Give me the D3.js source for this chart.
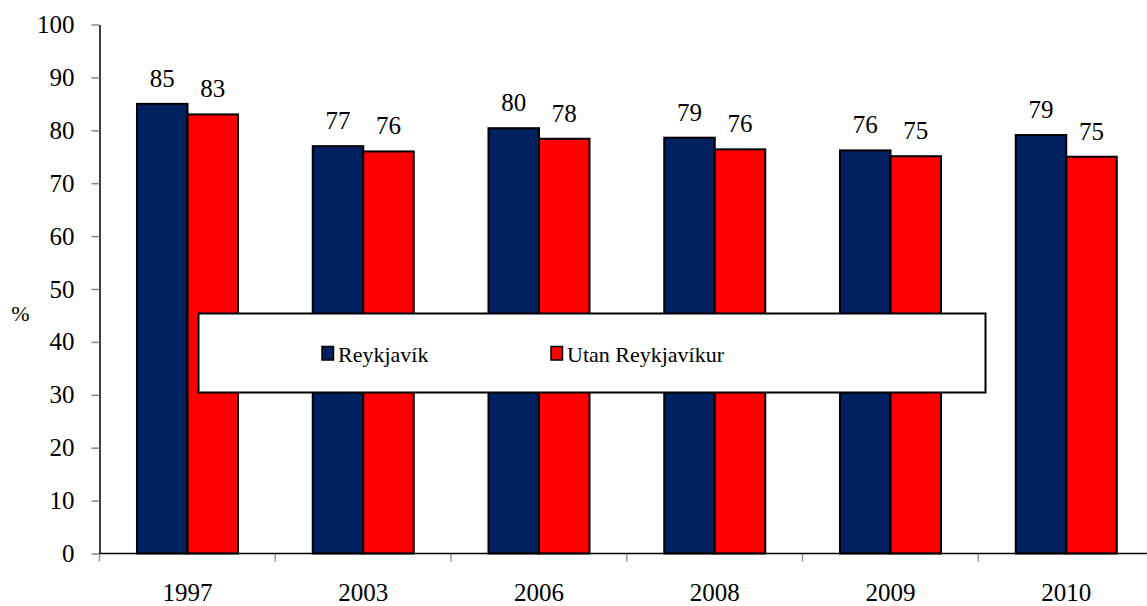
<!DOCTYPE html>
<html>
<head>
<meta charset="utf-8">
<script src="https://cdn.jsdelivr.net/npm/d3@7"></script>
<style>
  html, body { margin: 0; padding: 0; background: #fff; }
  svg text { font-family: "Liberation Serif", "Times New Roman", Times, serif; }
</style>
</head>
<body>
<svg id="chart" width="1147" height="606"></svg>
<script>
// Survey years and the share (%) for each area
const years = ["1997", "2003", "2006", "2008", "2009", "2010"];
const seriesNames = ["Reykjavík", "Utan Reykjavíkur"];
const reykjavik = [85, 77, 80.4, 78.6, 76.2, 79.1];
const utanReykjavikur = [83, 76, 78.4, 76.4, 75.1, 75];
const yTicks = [0, 10, 20, 30, 40, 50, 60, 70, 80, 90, 100];
const colors = ["#002060", "#ff0000"];

(function draw() {
  const seriesValues = [reykjavik, utanReykjavikur];
  const rows = years.map((yr, i) => ({
    year: yr,
    values: seriesNames.map((s, j) => ({ series: s, value: seriesValues[j][i], idx: j }))
  }));

  const svg = d3.select("#chart");
  const plotLeft = 99.5, plotBottom = 553.5, plotTop = 24.5;

  const x0 = d3.scaleBand().domain(years).range([plotLeft, plotLeft + 6 * 175.75]).padding(0);
  const x1 = d3.scaleBand().domain(seriesNames).range([37.5, 138.5]).padding(0);
  const y = d3.scaleLinear().domain([0, 100]).range([plotBottom, plotTop]);

  // Y axis
  const yAxis = svg.append("g")
    .attr("transform", `translate(${plotLeft},0)`)
    .call(d3.axisLeft(y).tickValues(yTicks).tickSize(8).tickPadding(17).tickSizeOuter(0));
  yAxis.attr("font-family", null);
  yAxis.select(".domain").attr("stroke", "#000").attr("stroke-width", 1.5);
  yAxis.selectAll(".tick line").attr("stroke", "#888").attr("stroke-width", 1.5);
  yAxis.selectAll(".tick text").attr("font-size", 25).attr("fill", "#000");

  // Category boundary ticks on the x axis
  const bounds = years.map(d => x0(d)).concat([x0(years[years.length - 1]) + x0.bandwidth()]);
  svg.append("g").selectAll("line").data(bounds).join("line")
    .attr("x1", d => d).attr("x2", d => d)
    .attr("y1", plotBottom).attr("y2", plotBottom + 8)
    .attr("stroke", "#999").attr("stroke-width", 1.5);

  // Bars
  const groups = svg.append("g").selectAll("g").data(rows).join("g")
    .attr("transform", d => `translate(${x0(d.year)},0)`);

  groups.selectAll("rect").data(d => d.values).join("rect")
    .attr("x", d => x1(d.series))
    .attr("y", d => y(d.value))
    .attr("width", x1.bandwidth())
    .attr("height", d => plotBottom - y(d.value))
    .attr("fill", d => colors[d.idx])
    .attr("stroke", "#000")
    .attr("stroke-width", 2);

  // Value labels
  const fmt = d3.format(".0f");
  groups.selectAll("text").data(d => d.values).join("text")
    .attr("x", d => x1(d.series) + x1.bandwidth() / 2)
    .attr("y", d => y(d.value) - 17)
    .attr("text-anchor", "middle")
    .attr("font-size", 25)
    .attr("fill", "#000")
    .text(d => fmt(d.value));

  // X axis line and year labels
  svg.append("line")
    .attr("x1", plotLeft).attr("x2", 1147)
    .attr("y1", plotBottom).attr("y2", plotBottom)
    .attr("stroke", "#000").attr("stroke-width", 1.5);

  svg.append("g").selectAll("text").data(years).join("text")
    .attr("x", d => x0(d) + x0.bandwidth() / 2)
    .attr("y", 601)
    .attr("text-anchor", "middle")
    .attr("font-size", 25)
    .attr("fill", "#000")
    .text(d => d);

  // Axis title
  svg.append("text")
    .attr("x", 20.5).attr("y", 321)
    .attr("text-anchor", "middle")
    .attr("font-size", 22)
    .text("%");

  // Legend box
  const legend = svg.append("g");
  legend.append("rect")
    .attr("x", 198.5).attr("y", 313.5)
    .attr("width", 787).attr("height", 79)
    .attr("fill", "#fff")
    .attr("stroke", "#000").attr("stroke-width", 2);

  const legendX = [322, 551];
  const items = legend.selectAll("g").data(seriesNames).join("g")
    .attr("transform", (d, i) => `translate(${legendX[i]},0)`);
  items.append("rect")
    .attr("x", 0).attr("y", 346.5)
    .attr("width", 11.5).attr("height", 13.5)
    .attr("fill", (d, i) => colors[i])
    .attr("stroke", "#000").attr("stroke-width", 1.5);
  items.append("text")
    .attr("x", 16).attr("y", 362)
    .attr("font-size", 22)
    .attr("fill", "#000")
    .text(d => d);
})();
</script>
</body>
</html>
